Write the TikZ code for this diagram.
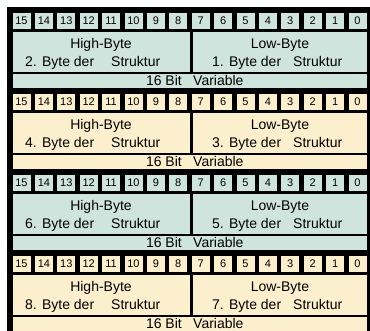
\documentclass[tikz,border=0pt]{standalone}
\usepackage{fontspec}
\setmainfont{Liberation Sans}
\definecolor{blkA}{RGB}{207,228,220}
\definecolor{blkB}{RGB}{252,239,205}
\begin{document}
\begin{tikzpicture}[x=1pt,y=-1pt,
  bitcell/.style={inner sep=0pt, minimum width=18pt, minimum height=16pt, font=\fontsize{11}{13}\selectfont},
  lbl/.style={inner sep=0pt, anchor=base, font=\fontsize{14}{17}\selectfont}]
\useasboundingbox (0,0) rectangle (370,331);
\fill[black] (7,7) rectangle (370,331);
\foreach \k/\col/\hi/\lo in {0/blkA/2/1,1/blkB/4/3,2/blkA/6/5,3/blkB/8/7}{
  \pgfmathsetmacro{\yo}{7+81*\k}
  \foreach \j in {0,...,15}{
    \pgfmathtruncatemacro{\bit}{15-\j}
    \node[bitcell,fill=\col] (b\k-\j) at ({21.5+22.4*\j},{\yo+14}) {\bit};
  }
  \fill[\col] (12.5,{\yo+25.5}) rectangle (190,{\yo+65});
  \fill[\col] (192.5,{\yo+25.5}) rectangle (367,{\yo+65});
  \fill[\col] (12.5,{\yo+67}) rectangle (367,{\yo+81});
  \node[lbl] (hb\k) at (101,{\yo+42}) {High-Byte};
  \node[lbl,anchor=base west] (hs\k) at (25,{\yo+59.5}) {\hi. Byte der};
  \node[lbl,anchor=base west] (hk\k) at (111,{\yo+59.5}) {Struktur};
  \node[lbl] (lb\k) at (280,{\yo+42}) {Low-Byte};
  \node[lbl,anchor=base west] (ls\k) at (212,{\yo+59.5}) {\lo. Byte der};
  \node[lbl,anchor=base west] (lk\k) at (293,{\yo+59.5}) {Struktur};
  \node[lbl,anchor=base east] (sv\k) at (182,{\yo+78.5}) {16 Bit};
  \node[lbl,anchor=base west] (sw\k) at (193,{\yo+78.5}) {Variable};
}
\end{tikzpicture}
\end{document}
